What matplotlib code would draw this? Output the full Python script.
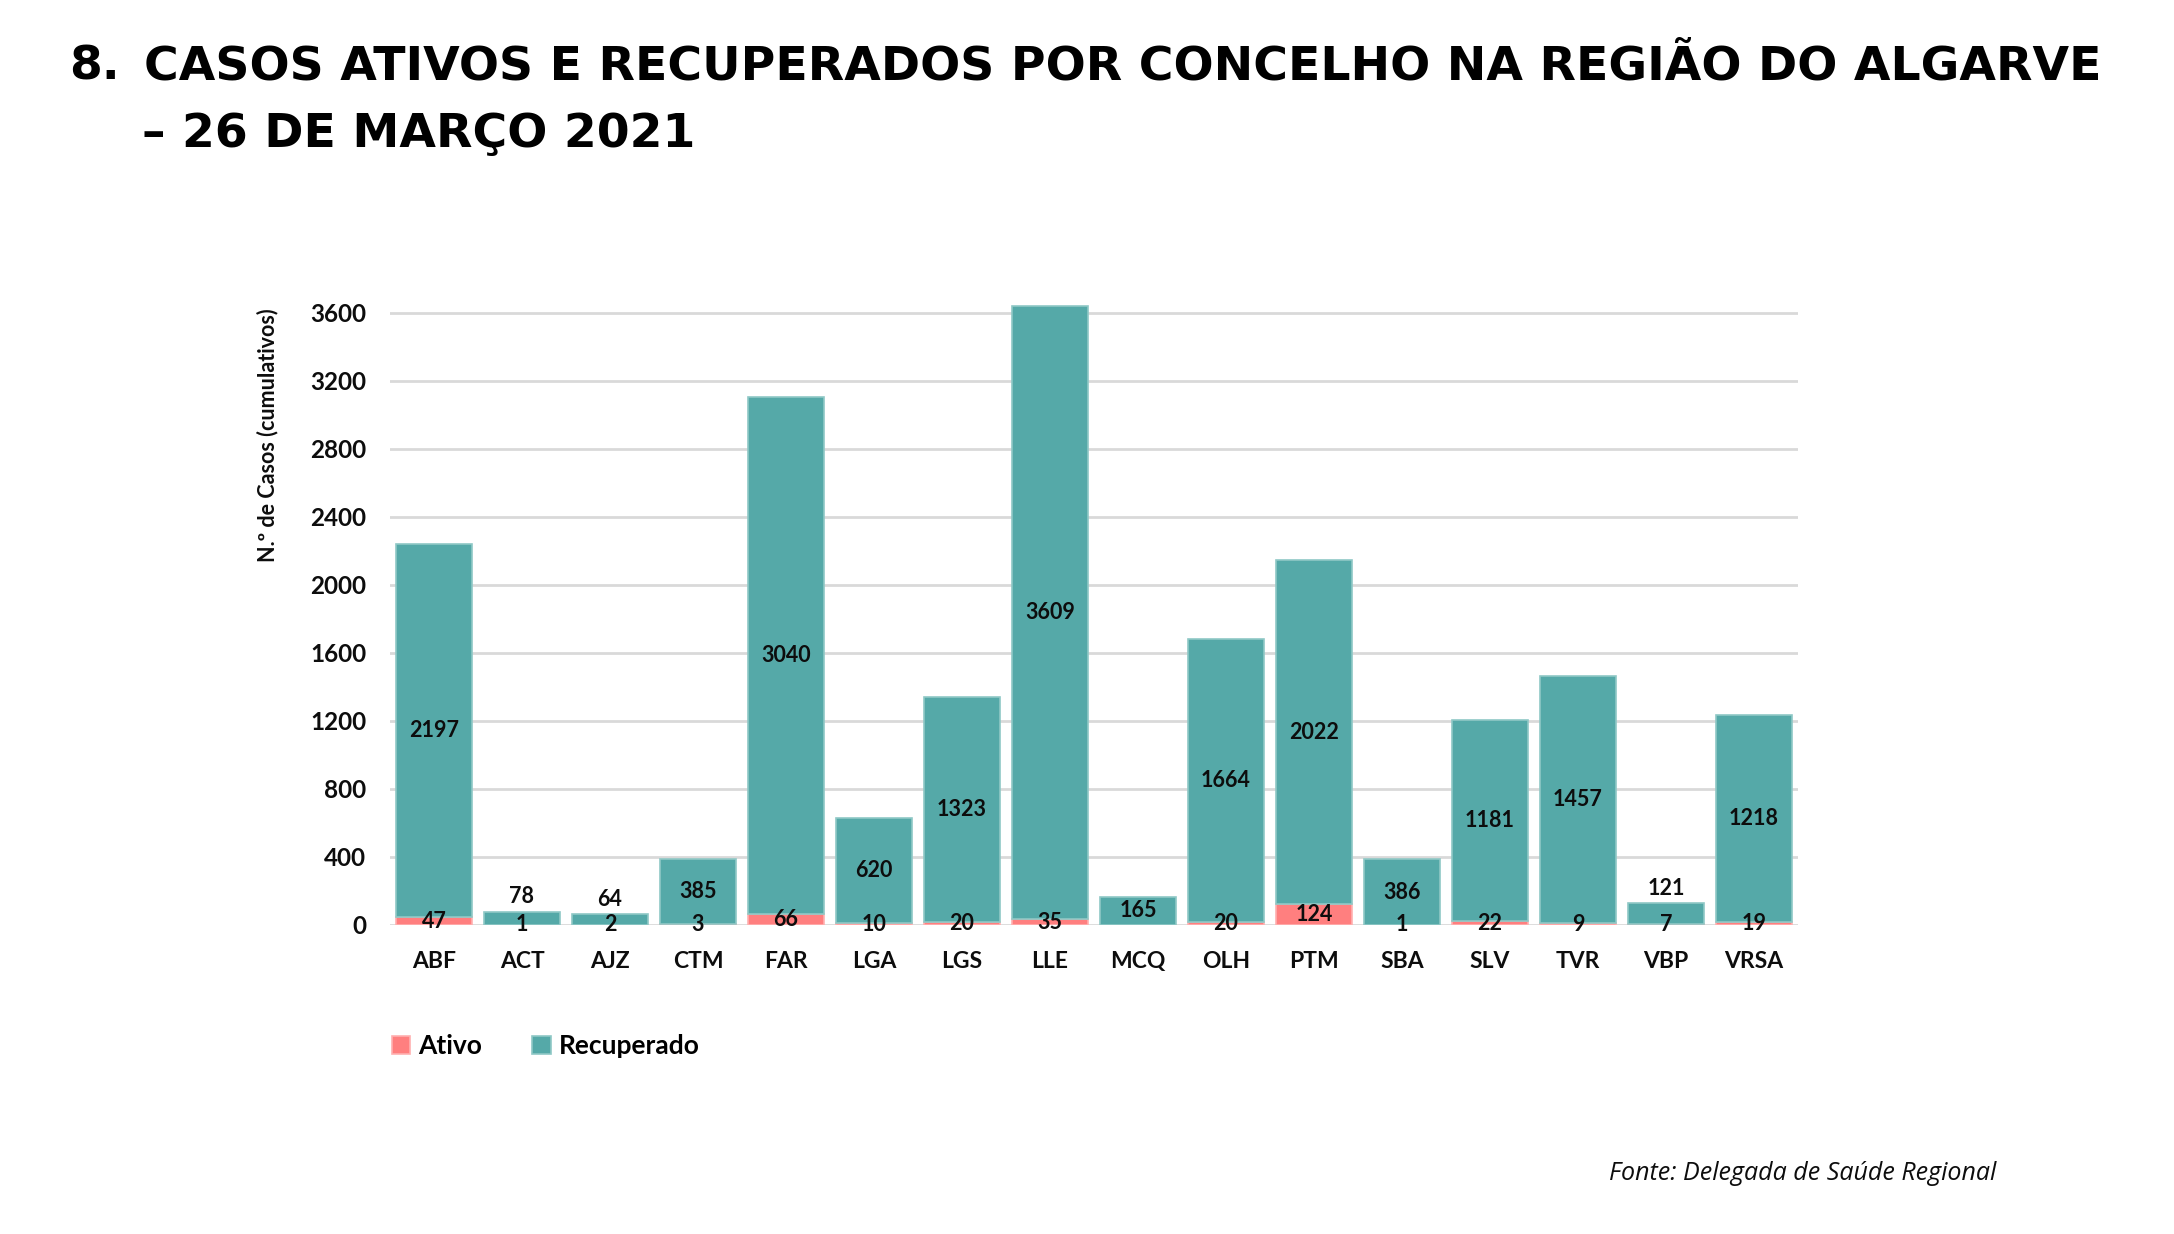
import numpy as np
import matplotlib
matplotlib.use('Agg')
import matplotlib.pyplot as plt

# data (26 Mar 2021)
concelhos = ['ABF', 'ACT', 'AJZ', 'CTM', 'FAR', 'LGA', 'LGS', 'LLE',
             'MCQ', 'OLH', 'PTM', 'SBA', 'SLV', 'TVR', 'VBP', 'VRSA']
ativos = [47, 1, 2, 3, 66, 10, 20, 35, 0, 20, 124, 1, 22, 9, 7, 19]
recuperados = [2197, 78, 64, 385, 3040, 620, 1323, 3609, 165, 1664,
               2022, 386, 1181, 1457, 121, 1218]
y_ticks = [0, 400, 800, 1200, 1600, 2000, 2400, 2800, 3200, 3600]

TEAL = '#55A9A8'
PINK = '#FF7F7F'
GRID = '#D9D9D9'
INK = '#0d0d0d'
FONT = ['Lato', 'DejaVu Sans']

plt.rcParams['font.family'] = FONT

W, H = 2174, 1234
fig = plt.figure(figsize=(W / 100, H / 100), dpi=100)

# axes placed in pixel terms of the original picture
ax = fig.add_axes([390 / W, 1 - 925 / H, 1408 / W, 629 / H])

x = np.arange(len(concelhos))
ativos = np.array(ativos)
recuperados = np.array(recuperados)
width = 0.86

b1 = ax.bar(x, ativos, width, color=PINK, edgecolor='#FFB0B0', linewidth=1.2,
            label='Ativo', zorder=3)
b2 = ax.bar(x, recuperados, width, bottom=ativos, color=TEAL,
            edgecolor='#8FC8C6', linewidth=1.2, label='Recuperado', zorder=3)

ax.set_xlim(-0.5, len(concelhos) - 0.5)
ax.set_ylim(0, 3700)
ax.set_yticks(y_ticks)
ax.grid(axis='y', color=GRID, linewidth=2, zorder=0)
ax.set_axisbelow(True)
for s in ax.spines.values():
    s.set_visible(False)
ax.tick_params(axis='both', length=0, colors=INK)
ax.tick_params(axis='x', pad=19, labelsize=16.5)
ax.tick_params(axis='y', pad=17, labelsize=17.5)
ax.set_xticks(x)
ax.set_xticklabels(concelhos, fontweight='bold')
for lab in ax.get_yticklabels():
    lab.set_fontweight('bold')

# value labels
lbl = dict(ha='center', fontsize=15.5, fontweight='bold', color=INK, zorder=5)
for xi, a, r in zip(x, ativos, recuperados):
    if a > 0:
        ax.text(xi, a / 2, str(a), va='center', **lbl)
    if r >= 150:
        ax.text(xi, a + r / 2, str(r), va='center', **lbl)
    else:
        ax.annotate(str(r), (xi, a + r), xytext=(0, 3),
                    textcoords='offset points', va='bottom', **lbl)

# y label sits high, next to the top of the axis
fig.text(268 / W, 1 - 308 / H, 'N.º de Casos (cumulativos)', rotation=90,
         ha='center', va='top', fontsize=15.5, fontweight='bold', color=INK)

# title
title_kw = dict(ha='left', va='center', fontsize=34, fontweight='bold',
                color='black', family=['DejaVu Sans'])
fig.text(69 / W, 1 - 67 / H, '8.', **title_kw)
fig.text(144 / W, 1 - 67 / H,
         'CASOS ATIVOS E RECUPERADOS POR CONCELHO NA REGIÃO DO ALGARVE',
         **title_kw)
fig.text(142 / W, 1 - 134 / H, '– 26 DE MARÇO 2021', **title_kw)

# legend
fig.legend(handles=[b1, b2], labels=['Ativo', 'Recuperado'],
           loc='center left', bbox_to_anchor=(392 / W, 1 - 1046 / H),
           ncol=2, frameon=False, handlelength=0.7,
           handleheight=0.7, handletextpad=0.3, columnspacing=1.9,
           borderpad=0, borderaxespad=0,
           prop={'weight': 'bold', 'size': 19})

# source
fig.text(1609 / W, 1 - 1174 / H, 'Fonte: Delegada de Saúde Regional',
         ha='left', va='center', fontsize=18, style='italic', color=INK,
         family=['Open Sans', 'DejaVu Sans'])

fig.savefig('out.png', dpi=100)
